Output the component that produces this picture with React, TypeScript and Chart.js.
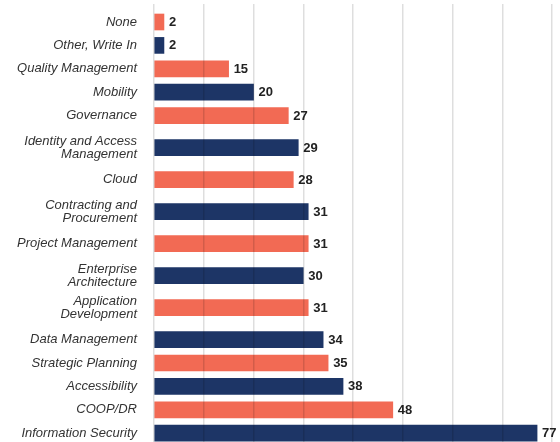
import React, { useEffect, useRef } from "react";
import { Chart, registerables } from "chart.js";

Chart.register(...registerables);

const categories: (string | string[])[] = [
  "None",
  "Other, Write In",
  "Quality Management",
  "Mobility",
  "Governance",
  ["Identity and Access", "Management"],
  "Cloud",
  ["Contracting and", "Procurement"],
  "Project Management",
  ["Enterprise", "Architecture"],
  ["Application", "Development"],
  "Data Management",
  "Strategic Planning",
  "Accessibility",
  "COOP/DR",
  "Information Security",
];

const values: number[] = [2, 2, 15, 20, 27, 29, 28, 31, 31, 30, 31, 34, 35, 38, 48, 77];

const xTicks: number[] = [0, 10, 20, 30, 40, 50, 60, 70, 80];

const SALMON = "#F26A54";
const NAVY = "#1D3566";
const FONT = "'Liberation Sans', Arial, Helvetica, sans-serif";

// layout: rows with wrapped labels get more room (derived from label line counts)
const ROW = 23.4;
const ROW_WRAP = 32;
const FIRST = 18;
const lineCount = (c: string | string[]) => (Array.isArray(c) ? c.length : 1);
const positions: number[] = [];
categories.forEach((c, i) => {
  if (i === 0) positions.push(FIRST);
  else {
    const wrap = lineCount(c) > 1 || lineCount(categories[i - 1]) > 1;
    positions.push(positions[i - 1] + (wrap ? ROW_WRAP : ROW));
  }
});

const valueLabels = {
  id: "valueLabels",
  afterDraw(chart: any) {
    const { ctx } = chart;
    const meta = chart.getDatasetMeta(0);
    ctx.save();
    ctx.font = `bold 13px ${FONT}`;
    ctx.fillStyle = "#222222";
    ctx.textAlign = "left";
    ctx.textBaseline = "middle";
    meta.data.forEach((bar: any, i: number) => {
      ctx.fillText(String(values[i]), bar.x + 5, bar.y + 0.5);
    });
    ctx.restore();
  },
};

export default function App() {
  const ref = useRef<HTMLCanvasElement | null>(null);

  useEffect(() => {
    document.body.style.margin = "0";
    if (!ref.current) return;
    const chart = new Chart(ref.current, {
      type: "bar",
      data: {
        datasets: [
          {
            data: values.map((v, i) => ({ x: v, y: positions[i] })) as any,
            backgroundColor: values.map((_, i) => (i % 2 === 0 ? SALMON : NAVY)),
            barThickness: 16,
            borderWidth: 0,
          },
        ],
      },
      options: {
        indexAxis: "y",
        responsive: false,
        animation: false,
        layout: { padding: { top: 4, right: 8, bottom: 0, left: 0 } },
        plugins: {
          legend: { display: false },
          tooltip: { enabled: false },
        },
        scales: {
          x: {
            type: "linear",
            min: xTicks[0],
            max: xTicks[xTicks.length - 1],
            afterBuildTicks: (axis: any) => {
              axis.ticks = xTicks.map((v) => ({ value: v }));
            },
            afterFit: (axis: any) => {
              axis.height = 0;
              axis.paddingLeft = 0;
              axis.paddingRight = 0;
            },
            ticks: { display: false },
            grid: { color: "rgba(0,0,0,0.13)", lineWidth: 1.5, drawTicks: false, z: 1 },
            border: { display: false },
          },
          y: {
            type: "linear",
            reverse: true,
            offset: false,
            min: 0,
            max: 438,
            afterBuildTicks: (axis: any) => {
              axis.ticks = positions.map((v) => ({ value: v }));
            },
            afterFit: (axis: any) => {
              axis.width = 154;
              axis.paddingTop = 0;
              axis.paddingBottom = 0;
            },
            ticks: {
              autoSkip: false,
              padding: 17,
              color: "#333333",
              font: { family: FONT, size: 13, style: "italic", lineHeight: 1.03 },
              callback: (_v: any, i: number) => categories[i] as any,
            },
            grid: { display: false, drawTicks: false, offset: false },
            border: { display: false },
          },
        },
      },
      plugins: [valueLabels],
    });
    return () => chart.destroy();
  }, []);

  return (
    <div style={{ position: "fixed", left: 0, top: 0, width: 560, height: 442 }}>
      <canvas ref={ref} width={560} height={442} />
    </div>
  );
}
